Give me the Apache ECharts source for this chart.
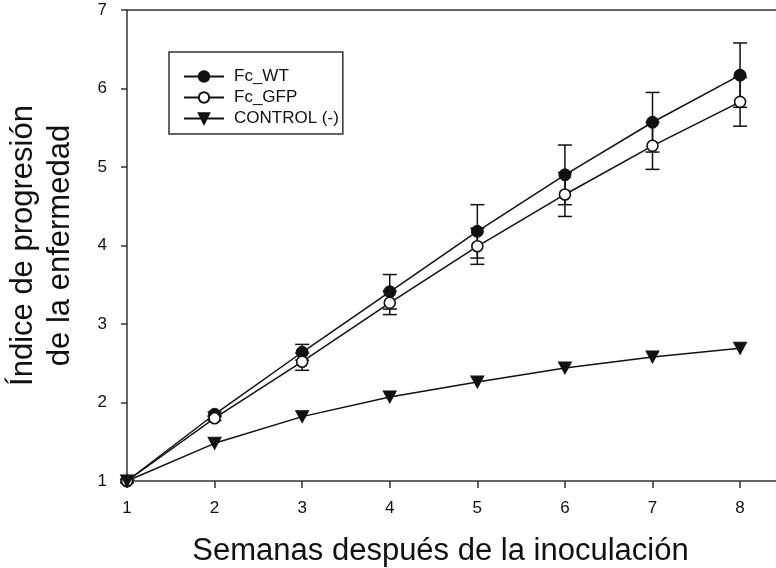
<!DOCTYPE html>
<html>
<head>
<meta charset="utf-8">
<script src="https://cdn.jsdelivr.net/npm/echarts@6/dist/echarts.min.js"></script>
<style>
  html, body { margin: 0; padding: 0; background: #fff; }
  #chart { width: 776px; height: 568px; }
</style>
</head>
<body>
<div id="chart"></div>
<script>
// Weeks after inoculation
const weeks = [1, 2, 3, 4, 5, 6, 7, 8];
// Disease progression index: means and error (±)
const wtMean  = [1.00, 1.85, 2.64, 3.41, 4.18, 4.90, 5.57, 6.17];
const wtErr   = [0.02, 0.03, 0.10, 0.22, 0.34, 0.38, 0.38, 0.41];
const gfpMean = [1.00, 1.80, 2.52, 3.27, 3.99, 4.65, 5.27, 5.83];
const gfpErr  = [0.02, 0.03, 0.11, 0.15, 0.23, 0.28, 0.30, 0.31];
const ctrlMean = [1.00, 1.48, 1.82, 2.07, 2.26, 2.44, 2.58, 2.69];
const yTicks = [1, 2, 3, 4, 5, 6, 7];
const seriesNames = ['Fc_WT', 'Fc_GFP', 'CONTROL (-)'];

const FONT = '"Liberation Sans", Arial, sans-serif';
const INK = '#111';

function pairs(ys) { return weeks.map((x, i) => [x, ys[i]]); }
function bars(ys, es) { return weeks.map((x, i) => [x, ys[i] - es[i], ys[i] + es[i]]); }

// Vertical error bar with caps
function errorBarItem(params, api) {
  const x = api.value(0);
  const lo = api.coord([x, api.value(1)]);
  const hi = api.coord([x, api.value(2)]);
  const half = 7;
  const style = { stroke: INK, lineWidth: 1.5, fill: null };
  return {
    type: 'group',
    children: [
      { type: 'line', shape: { x1: lo[0], y1: lo[1], x2: hi[0], y2: hi[1] }, style },
      { type: 'line', shape: { x1: hi[0] - half, y1: hi[1], x2: hi[0] + half, y2: hi[1] }, style },
      { type: 'line', shape: { x1: lo[0] - half, y1: lo[1], x2: lo[0] + half, y2: lo[1] }, style }
    ]
  };
}

const chart = echarts.init(document.getElementById('chart'), null, { renderer: 'canvas' });

const axisLine = { show: true, lineStyle: { color: '#333', width: 1.5 } };

chart.setOption({
  animation: false,
  backgroundColor: '#fff',
  grid: { left: 127, top: 10, right: 0, bottom: 87, containLabel: false, outerBoundsMode: 'none' },
  legend: {
    data: seriesNames,
    orient: 'vertical',
    left: 169,
    top: 52,
    padding: [16, 4, 7, 14],
    itemWidth: 40,
    itemHeight: 13,
    itemGap: 4,
    borderColor: '#333',
    borderWidth: 1.5,
    borderRadius: 0,
    textStyle: { fontFamily: FONT, fontSize: 17, color: INK, lineHeight: 17, padding: [0, 0, 0, 5] }
  },
  xAxis: [{
    type: 'value',
    min: 1,
    max: 8.41,
    interval: 1,
    position: 'bottom',
    axisLine: axisLine,
    axisTick: { show: true, inside: false, length: 7, customValues: weeks, lineStyle: { color: '#333', width: 1.5 } },
    axisLabel: { customValues: weeks, margin: 19, fontFamily: FONT, fontSize: 17, color: INK },
    splitLine: { show: false },
    name: 'Semanas después de la inoculación',
    nameLocation: 'middle',
    nameGap: 55,
    nameTextStyle: { fontFamily: FONT, fontSize: 31, color: INK, padding: [0, 22, 0, 0] }
  }, {
    type: 'value',
    min: 1,
    max: 8.41,
    position: 'top',
    axisLine: axisLine,
    axisTick: { show: false },
    axisLabel: { show: false },
    splitLine: { show: false }
  }],
  yAxis: {
    type: 'value',
    min: 1,
    max: 7,
    interval: 1,
    axisLine: axisLine,
    axisTick: { show: true, inside: false, length: 6, lineStyle: { color: '#333', width: 1.5 } },
    axisLabel: { margin: 20, fontFamily: FONT, fontSize: 17, color: INK },
    splitLine: { show: false },
    name: 'Índice de progresión\nde la enfermedad',
    nameLocation: 'middle',
    nameRotate: 90,
    nameGap: 48,
    nameTextStyle: { fontFamily: FONT, fontSize: 31, color: INK, lineHeight: 37, align: 'center' }
  },
  series: [
    {
      type: 'custom',
      name: 'errWT',
      renderItem: errorBarItem,
      data: bars(wtMean, wtErr),
      encode: { x: 0, y: [1, 2] },
      z: 1,
      silent: true
    },
    {
      type: 'custom',
      name: 'errGFP',
      renderItem: errorBarItem,
      data: bars(gfpMean, gfpErr),
      encode: { x: 0, y: [1, 2] },
      z: 1,
      silent: true
    },
    {
      type: 'line',
      name: seriesNames[0],
      data: pairs(wtMean),
      symbol: 'circle',
      symbolSize: 12,
      lineStyle: { color: INK, width: 1.5 },
      itemStyle: { color: INK, borderColor: INK, borderWidth: 1 },
      z: 3
    },
    {
      type: 'line',
      name: seriesNames[1],
      data: pairs(gfpMean),
      symbol: 'circle',
      symbolSize: 11,
      lineStyle: { color: INK, width: 1.5 },
      itemStyle: { color: '#fff', borderColor: INK, borderWidth: 1.6 },
      z: 3
    },
    {
      type: 'line',
      name: seriesNames[2],
      data: pairs(ctrlMean),
      symbol: 'triangle',
      symbolRotate: 180,
      symbolSize: [13, 12],
      lineStyle: { color: INK, width: 1.5 },
      itemStyle: { color: INK, borderColor: INK, borderWidth: 1 },
      z: 3
    }
  ]
});
</script>
</body>
</html>
